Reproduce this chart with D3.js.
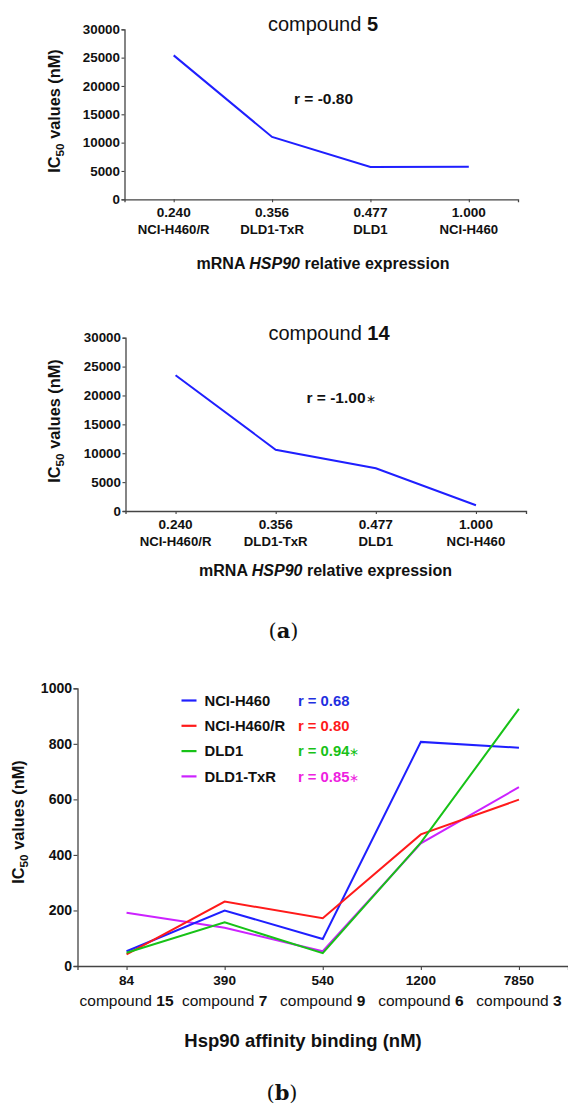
<!DOCTYPE html>
<html>
<head>
<meta charset="utf-8">
<script src="https://cdn.jsdelivr.net/npm/d3@7"></script>
<style>
  html, body { margin: 0; padding: 0; background: #fff; }
  svg { display: block; }
  text { font-family: "Liberation Sans", Arial, sans-serif; fill: #111; }
</style>
</head>
<body>
<svg id="fig" width="568" height="1105"></svg>
<script>
// ---------- Data: panel (a) ----------
const expressionLevels = ["0.240", "0.356", "0.477", "1.000"];
const cellLinesA = ["NCI-H460/R", "DLD1-TxR", "DLD1", "NCI-H460"];
const compound5IC50 = [25400, 11000, 5700, 5750];
const compound14IC50 = [23500, 10600, 7400, 1000];
const yTicksA = [0, 5000, 10000, 15000, 20000, 25000, 30000];

// ---------- Data: panel (b) ----------
const affinityValues = ["84", "390", "540", "1200", "7850"];
const compoundNumbers = ["15", "7", "9", "6", "3"];
const seriesNames = ["NCI-H460", "NCI-H460/R", "DLD1", "DLD1-TxR"];
const seriesH460 = [53, 200, 97, 807, 786];
const seriesH460R = [42, 232, 172, 474, 599];
const seriesDLD1 = [48, 157, 46, 444, 926];
const seriesDLD1TxR = [192, 138, 53, 442, 644];
const rValuesB = ["0.68", "0.80", "0.94", "0.85"];
const rSignificantB = [false, false, true, true];
const yTicksB = [0, 200, 400, 600, 800, 1000];

const svg = d3.select("#fig");
const axisColor = "#444";
const plainFmt = d3.format("d");

function styleAxis(g) {
  g.selectAll(".domain").attr("stroke", axisColor).attr("stroke-width", 1.3);
  g.selectAll(".tick line").attr("stroke", axisColor).attr("stroke-width", 1.1);
}

function yTitle(x, y, size) {
  const t = svg.append("text")
    .attr("transform", `translate(${x},${y}) rotate(-90)`)
    .attr("text-anchor", "middle")
    .attr("font-weight", "bold")
    .attr("font-size", size)
    .attr("dominant-baseline", "middle");
  t.append("tspan").text("IC");
  t.append("tspan").attr("font-size", size * 0.72).attr("dy", size * 0.3).text("50");
  t.append("tspan").attr("dy", -size * 0.3).text(" values (nM)");
}

function panelA(cfg, values, title, rText, rStar) {
  const x = d3.scalePoint().domain(expressionLevels).range(cfg.xr).padding(0.5);
  const y = d3.scaleLinear().domain([0, 30000]).range(cfg.yr);

  const gy = svg.append("g").attr("transform", `translate(${cfg.xr[0]},0)`)
    .call(d3.axisLeft(y).tickValues(yTicksA).tickFormat(plainFmt).tickSizeOuter(0).tickSize(3).tickPadding(1.5));
  gy.selectAll(".tick text").attr("font-size", 13.4).attr("font-weight", "bold")
    .attr("fill", "#111").attr("font-family", "Liberation Sans, Arial, sans-serif");
  styleAxis(gy);

  const gx = svg.append("g").attr("transform", `translate(0,${cfg.yr[0]})`)
    .call(d3.axisBottom(x).tickSizeOuter(0).tickSize(3).tickFormat(""));
  styleAxis(gx);

  expressionLevels.forEach((lv, i) => {
    svg.append("text").attr("x", x(lv)).attr("y", cfg.yr[0] + 18)
      .attr("text-anchor", "middle").attr("font-weight", "bold").attr("font-size", 13.6)
      .text(lv);
    svg.append("text").attr("x", x(lv)).attr("y", cfg.yr[0] + 34.5)
      .attr("text-anchor", "middle").attr("font-weight", "bold").attr("font-size", 13.2)
      .text(cellLinesA[i]);
  });

  const line = d3.line().x((d, i) => x(expressionLevels[i])).y(d => y(d));
  svg.append("path").datum(values).attr("d", line)
    .attr("fill", "none").attr("stroke", "#1f1fff").attr("stroke-width", 2);

  const tt = svg.append("text").attr("x", cfg.titleX).attr("y", cfg.titleY)
    .attr("text-anchor", "middle").attr("font-size", 20);
  tt.append("tspan").text("compound ");
  tt.append("tspan").attr("font-weight", "bold").text(title);

  const rt = svg.append("text").attr("x", cfg.rX).attr("y", cfg.rY)
    .attr("font-size", 15.5).attr("font-weight", "bold");
  rt.append("tspan").text(rText);
  if (rStar) rt.append("tspan").attr("font-size", 12).attr("font-weight", "normal").text("\u2217");

  const at = svg.append("text").attr("x", cfg.axX).attr("y", cfg.axY)
    .attr("text-anchor", "middle").attr("font-size", 16).attr("font-weight", "bold");
  at.append("tspan").text("mRNA ");
  at.append("tspan").attr("font-style", "italic").text("HSP90");
  at.append("tspan").text(" relative expression");

  yTitle(cfg.ytX, cfg.ytY, 16.3);
}

panelA({ xr: [124.5, 518], yr: [199.3, 29.3], titleX: 323, titleY: 30.5, rX: 294, rY: 103.5,
         axX: 323, axY: 268.5, ytX: 56, ytY: 111 }, compound5IC50, "5", "r = -0.80", false);
panelA({ xr: [125.5, 526], yr: [511, 337.7], titleX: 329, titleY: 339.5, rX: 306.5, rY: 402.5,
         axX: 325.5, axY: 575.5, ytX: 56, ytY: 421 }, compound14IC50, "14", "r = -1.00", true);

// label (a)
const la = svg.append("text").attr("x", 283.5).attr("y", 638).attr("text-anchor", "middle")
  .attr("font-size", 21).style("font-family", "'DejaVu Serif', 'Liberation Serif', serif");
la.append("tspan").text("(");
la.append("tspan").attr("font-weight", "bold").text("a");
la.append("tspan").text(")");

// ---------- Panel (b) ----------
const xB = d3.scalePoint().domain(affinityValues).range([77.5, 568]).padding(0.5);
const yB = d3.scaleLinear().domain([0, 1000]).range([966, 688.3]);

const gyB = svg.append("g").attr("transform", `translate(77.5,0)`)
  .call(d3.axisLeft(yB).tickValues(yTicksB).tickFormat(plainFmt).tickSizeOuter(0).tickSize(4).tickPadding(1.5));
gyB.selectAll(".tick text").attr("font-size", 14).attr("font-weight", "bold")
  .attr("fill", "#111").attr("font-family", "Liberation Sans, Arial, sans-serif");
styleAxis(gyB);

const gxB = svg.append("g").attr("transform", `translate(0,966)`)
  .call(d3.axisBottom(xB).tickSizeOuter(0).tickSize(4).tickFormat(""));
styleAxis(gxB);

affinityValues.forEach((v, i) => {
  svg.append("text").attr("x", xB(v)).attr("y", 985)
    .attr("text-anchor", "middle").attr("font-weight", "bold").attr("font-size", 13.6).text(v);
  const t = svg.append("text").attr("x", xB(v)).attr("y", 1006)
    .attr("text-anchor", "middle").attr("font-size", 15.5);
  t.append("tspan").text("compound ");
  t.append("tspan").attr("font-weight", "bold").text(compoundNumbers[i]);
});

const seriesValues = [seriesH460, seriesH460R, seriesDLD1, seriesDLD1TxR];
const lineColors = ["#1f1fff", "#ff1a1a", "#17c217", "#cc22ff"];
const rColors = ["#1f2fe0", "#ff1a1a", "#17c217", "#ee22e0"];
const drawOrder = [3, 0, 1, 2];
const lineB = d3.line().x((d, i) => xB(affinityValues[i])).y(d => yB(d));
drawOrder.forEach(k => {
  svg.append("path").datum(seriesValues[k]).attr("d", lineB)
    .attr("fill", "none").attr("stroke", lineColors[k]).attr("stroke-width", 2);
});

// legend
seriesNames.forEach((name, k) => {
  const cy = 700.5 + k * 25.3;
  svg.append("line").attr("x1", 181.5).attr("x2", 196.5).attr("y1", cy).attr("y2", cy)
    .attr("stroke", lineColors[k]).attr("stroke-width", 2.2);
  svg.append("text").attr("x", 204.5).attr("y", cy + 5.3)
    .attr("font-size", 14.8).attr("font-weight", "bold").text(name);
  const rt = svg.append("text").attr("x", 298).attr("y", cy + 5.3)
    .attr("font-size", 14.8).attr("font-weight", "bold").style("fill", rColors[k]);
  rt.append("tspan").text("r = " + rValuesB[k]);
  if (rSignificantB[k]) rt.append("tspan").attr("font-size", 11.5).attr("font-weight", "normal").text("\u2217");
});

svg.append("text").attr("x", 303).attr("y", 1046.5).attr("text-anchor", "middle")
  .attr("font-size", 18.5).attr("font-weight", "bold").text("Hsp90 affinity binding (nM)");

yTitle(20, 822, 16.3);

const lb = svg.append("text").attr("x", 282).attr("y", 1100).attr("text-anchor", "middle")
  .attr("font-size", 21).style("font-family", "'DejaVu Serif', 'Liberation Serif', serif");
lb.append("tspan").text("(");
lb.append("tspan").attr("font-weight", "bold").text("b");
lb.append("tspan").text(")");
</script>
</body>
</html>
